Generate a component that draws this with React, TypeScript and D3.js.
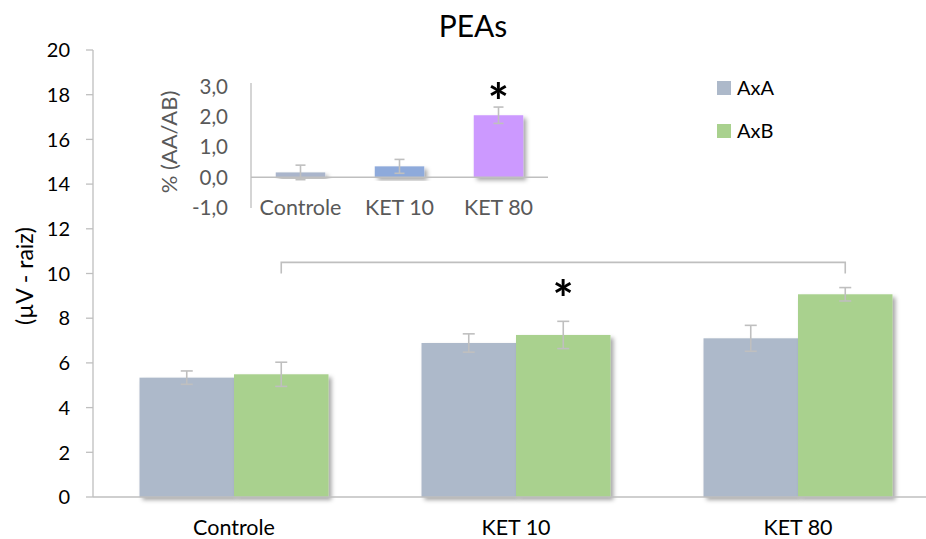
import * as d3 from "d3";

const categories = ["Controle", "KET 10", "KET 80"];
const seriesNames = ["AxA", "AxB"];
const seriesColors = ["#adb9ca", "#a9d18e"];

const axaValues = [5.34, 6.89, 7.1];
const axaErrors = [0.3, 0.41, 0.58];
const axbValues = [5.49, 7.25, 9.07];
const axbErrors = [0.54, 0.61, 0.3];

const yTicks = [0, 2, 4, 6, 8, 10, 12, 14, 16, 18, 20];

// bracket between Controle AxB and KET 80 AxB, star over KET 10 AxB
const bracketLevel = 10.5;
const bracketFoot = 10.0;
const mainStarLevel = 9.4;

const insetValues = [0.16, 0.36, 2.05];
const insetErrors = [0.24, 0.23, 0.27];
const insetColors = ["#aab5cb", "#8eaadb", "#cc99ff"];
const insetTicks = [-1, 0, 1, 2, 3];
const insetStarLevel = 2.88;

const FONT = "Lato, 'Open Sans', sans-serif";
const AXIS = "#bfbfbf";

export default function App() {
  const W = 926;
  const H = 539;

  const x = d3.scaleBand<string>().domain(categories).range([93, 939]);
  const groupW = 189;
  const xs = d3.scaleBand<string>().domain(seriesNames).range([0, groupW]);
  const y = d3.scaleLinear().domain([0, 20]).range([497, 50]);

  const xi = d3.scaleBand<string>().domain(categories).range([251, 548]);
  const yi = d3.scaleLinear().domain([-1, 3]).range([207.5, 86.5]);
  const insetBarW = xi.bandwidth() / 2;

  const series = [
    { name: "AxA", values: axaValues, errors: axaErrors, color: seriesColors[0] },
    { name: "AxB", values: axbValues, errors: axbErrors, color: seriesColors[1] },
  ];

  const barX = (c: string, s: string) => x(c)! + (x.bandwidth() - groupW) / 2 + xs(s)!;
  const barCenter = (c: string, s: string) => barX(c, s) + xs.bandwidth() / 2;

  const fmt = (v: number) => v.toFixed(1).replace(".", ",");

  const errBar = (cx: number, top: number, bot: number, cap: number, key: string) => (
    <g key={key} stroke={AXIS} strokeWidth={1.6}>
      <line x1={cx} x2={cx} y1={top} y2={bot} />
      <line x1={cx - cap} x2={cx + cap} y1={top} y2={top} />
      <line x1={cx - cap} x2={cx + cap} y1={bot} y2={bot} />
    </g>
  );

  const bx1 = barCenter("Controle", "AxB");
  const bx2 = barCenter("KET 80", "AxB");

  return (
    <svg
      width={W}
      height={H}
      style={{ position: "absolute", left: 0, top: 0, background: "#fff" }}
      fontFamily={FONT}
    >
      <defs>
        <filter id="shadow" x="-20%" y="-20%" width="150%" height="150%">
          <feDropShadow dx="3" dy="3" stdDeviation="2.2" floodColor="#000" floodOpacity="0.35" />
        </filter>
      </defs>
      <rect width={W} height={H} fill="#fff" />

      {/* title */}
      <text x={473} y={37} textAnchor="middle" fontSize={30} fill="#000">
        PEAs
      </text>

      {/* main y axis */}
      <line x1={93} x2={93} y1={y(20)} y2={y(0)} stroke={AXIS} strokeWidth={1.3} />
      {yTicks.map((t) => (
        <g key={t}>
          <line x1={86} x2={93} y1={y(t)} y2={y(t)} stroke={AXIS} strokeWidth={1.3} />
          <text x={70} y={y(t)} dy="0.36em" textAnchor="end" fontSize={20} fill="#000">
            {t}
          </text>
        </g>
      ))}
      <text
        transform={`translate(33,276) rotate(-90)`}
        textAnchor="middle"
        fontSize={23}
        fill="#000"
      >
        (µV - raiz)
      </text>

      {/* main bars */}
      {series.map((s) =>
        categories.map((c, i) => (
          <rect
            key={s.name + c}
            x={barX(c, s.name)}
            y={y(s.values[i])}
            width={xs.bandwidth()}
            height={y(0) - y(s.values[i])}
            fill={s.color}
            filter="url(#shadow)"
          />
        ))
      )}
      <line x1={93} x2={W} y1={y(0)} y2={y(0)} stroke={AXIS} strokeWidth={1.3} />
      {series.map((s) =>
        categories.map((c, i) =>
          errBar(
            barCenter(c, s.name),
            y(s.values[i] + s.errors[i]),
            y(s.values[i] - s.errors[i]),
            6,
            "e" + s.name + c
          )
        )
      )}
      {categories.map((c) => (
        <text key={c} x={x(c)! + x.bandwidth() / 2} y={535} textAnchor="middle" fontSize={21.5} fill="#000">
          {c}
        </text>
      ))}

      {/* bracket + star */}
      <path
        d={`M${bx1},${y(bracketFoot)}V${y(bracketLevel)}H${bx2}V${y(bracketFoot)}`}
        fill="none"
        stroke={AXIS}
        strokeWidth={1.6}
      />
      <text
        x={barCenter("KET 10", "AxB")}
        y={y(mainStarLevel)}
        dy="0.6em"
        textAnchor="middle"
        fontSize={50}
        fontWeight={700}
        fill="#000"
      >
        *
      </text>

      {/* legend */}
      {seriesNames.map((n, i) => (
        <g key={n} transform={`translate(717,${81 + i * 43})`}>
          <rect width={14} height={14} fill={seriesColors[i]} />
          <text x={20} y={14} fontSize={20} fill="#000">
            {n}
          </text>
        </g>
      ))}

      {/* inset chart */}
      {categories.map((c, i) => {
        const v = insetValues[i];
        return (
          <rect
            key={"ib" + c}
            x={xi(c)! + (xi.bandwidth() - insetBarW) / 2}
            y={yi(Math.max(0, v))}
            width={insetBarW}
            height={Math.abs(yi(0) - yi(v))}
            fill={insetColors[i]}
            filter="url(#shadow)"
          />
        );
      })}
      <line x1={251} x2={548} y1={yi(0)} y2={yi(0)} stroke={AXIS} strokeWidth={1.3} />
      <line x1={251} x2={251} y1={83} y2={208} stroke={AXIS} strokeWidth={1.3} />
      {categories.map((c, i) =>
        errBar(
          xi(c)! + xi.bandwidth() / 2,
          yi(insetValues[i] + insetErrors[i]),
          yi(insetValues[i] - insetErrors[i]),
          5,
          "ie" + c
        )
      )}
      {insetTicks.map((t) => (
        <text key={"it" + t} x={228} y={yi(t)} dy="0.36em" textAnchor="end" fontSize={20.5} fill="#595959">
          {fmt(t)}
        </text>
      ))}
      {categories.map((c) => (
        <text
          key={"ic" + c}
          x={xi(c)! + xi.bandwidth() / 2}
          y={215}
          textAnchor="middle"
          fontSize={21.5}
          fill="#595959"
        >
          {c}
        </text>
      ))}
      <text
        transform={`translate(177,142) rotate(-90)`}
        textAnchor="middle"
        fontSize={22}
        fill="#595959"
      >
        % (AA/AB)
      </text>
      <text
        x={xi("KET 80")! + xi.bandwidth() / 2}
        y={yi(insetStarLevel)}
        dy="0.6em"
        textAnchor="middle"
        fontSize={50}
        fontWeight={700}
        fill="#000"
      >
        *
      </text>
    </svg>
  );
}
